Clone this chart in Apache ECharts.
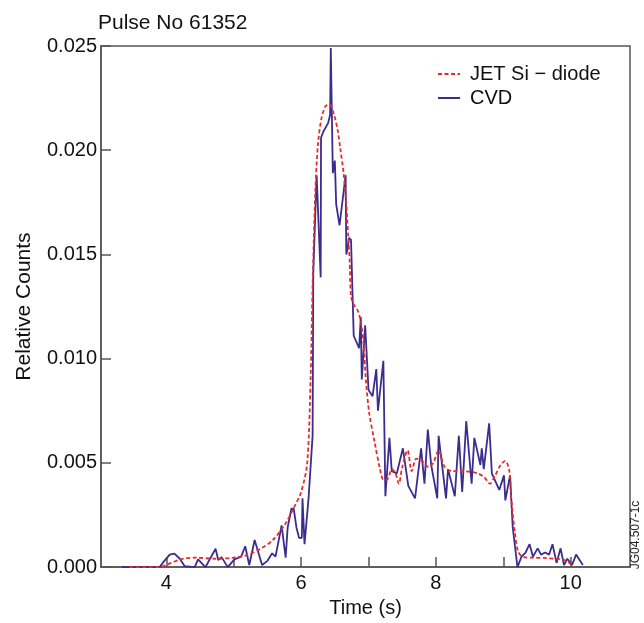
<!DOCTYPE html>
<html>
<head>
<meta charset="utf-8">
<script src="https://cdn.jsdelivr.net/npm/echarts@6/dist/echarts.min.js"></script>
<style>
html,body{margin:0;padding:0;background:#fff;}
#chart{width:644px;height:623px;}
</style>
</head>
<body>
<div id="chart"></div>
<script>
// CVD detector (solid)
const cvdTime = [3.34,3.90,3.97,4.05,4.12,4.20,4.27,4.42,4.47,4.58,4.73,4.77,4.82,4.91,5.01,5.11,5.17,5.23,5.31,5.42,5.50,5.57,5.62,5.71,5.77,5.80,5.855,5.89,5.93,5.97,6.01,6.02,6.05,6.11,6.17,6.18,6.23,6.29,6.295,6.33,6.40,6.43,6.44,6.47,6.50,6.52,6.57,6.66,6.67,6.69,6.71,6.74,6.78,6.86,6.885,6.90,6.95,7.00,7.06,7.115,7.14,7.22,7.25,7.31,7.345,7.42,7.51,7.59,7.69,7.78,7.83,7.88,7.93,8.02,8.04,8.15,8.18,8.28,8.34,8.39,8.45,8.53,8.57,8.66,8.68,8.71,8.79,8.83,8.94,9.01,9.03,9.10,9.14,9.21,9.27,9.33,9.39,9.44,9.51,9.56,9.62,9.68,9.73,9.79,9.85,9.90,9.95,10.02,10.08,10.18];
const cvdCounts = [0,0,0.0003,0.0006,0.00065,0.0004,0.00005,0,0.00037,0,0.00088,0.00034,0.00048,0,0.00037,0.0005,0.001,0.0001,0.0013,0.0001,0.0003,0.00066,0.0005,0.002,0.00045,0.0019,0.0028,0.0028,0.0019,0.0014,0.0014,0.0033,0.0011,0.0033,0.0063,0.0141,0.0188,0.0139,0.0206,0.0209,0.0213,0.0217,0.0249,0.0189,0.0195,0.0174,0.0164,0.0188,0.015,0.0153,0.0158,0.0157,0.0111,0.0105,0.012,0.009,0.0116,0.0085,0.0082,0.0095,0.0075,0.0099,0.0034,0.0062,0.0046,0.0045,0.0057,0.0039,0.0033,0.0057,0.004,0.0066,0.0049,0.0033,0.0063,0.0033,0.0047,0.0034,0.0063,0.0036,0.007,0.004,0.0062,0.0049,0.0057,0.0047,0.0069,0.0045,0.0037,0.0044,0.0032,0.0044,0.0019,0,0.0005,0.0007,0.0011,0.0005,0.0009,0.0006,0.0007,0.0006,0.0011,0.0002,0.0009,0.0001,0.0004,0.0001,0.0006,0.0001];
// JET Si-diode (dashed)
const jetTime = [3.45,3.90,4.07,4.24,4.44,4.74,4.99,5.18,5.38,5.58,5.77,5.90,6.00,6.09,6.14,6.17,6.21,6.25,6.30,6.36,6.42,6.48,6.54,6.58,6.63,6.67,6.70,6.72,6.74,6.78,6.84,6.885,6.93,6.96,7.01,7.09,7.17,7.22,7.27,7.35,7.40,7.45,7.50,7.58,7.64,7.71,7.79,7.89,7.96,8.04,8.13,8.26,8.41,8.62,8.72,8.80,8.88,8.96,9.03,9.09,9.12,9.17,9.22,9.30,9.45,9.60,9.75,9.90,9.98,10.05];
const jetCounts = [0,0,0.0002,0.0004,0.00045,0.0004,0.00045,0.00056,0.00085,0.0013,0.0021,0.0029,0.0036,0.005,0.009,0.0135,0.018,0.0203,0.0215,0.0221,0.0222,0.0218,0.021,0.0201,0.0189,0.0174,0.0158,0.0147,0.013,0.0126,0.0123,0.0118,0.0106,0.009,0.0074,0.006,0.0047,0.0042,0.0042,0.0047,0.0045,0.004,0.0048,0.0056,0.0046,0.0052,0.0051,0.0048,0.005,0.0056,0.0048,0.0046,0.0046,0.0045,0.0043,0.004,0.0044,0.0049,0.0051,0.0046,0.0032,0.0017,0.00075,0.00048,0.00045,0.00044,0.0004,0.00035,0.0002,0];
const xTicks = [4,5,6,7,8,9,10];
const xLabels = [4,6,8,10];
const seriesNames = ['JET Si − diode','CVD'];

const font = '"Liberation Sans", Arial, Helvetica, sans-serif';
const chart = echarts.init(document.getElementById('chart'), null, {renderer:'canvas'});
chart.setOption({
  animation: false,
  backgroundColor: '#fff',
  textStyle: {fontFamily: font},
  title: {text: 'Pulse No 61352', left: 93, top: 8,
    textStyle: {fontFamily: font, fontSize: 21, fontWeight: 'normal', color: '#111'}},
  legend: {
    data: [seriesNames[0], seriesNames[1]],
    orient: 'vertical', left: 432, top: 59,
    itemWidth: 22, itemHeight: 14, itemGap: 4,
    itemStyle: {opacity: 0},
    textStyle: {fontFamily: font, fontSize: 20, color: '#111', lineHeight: 20, padding: [0,0,0,5]}
  },
  grid: {left: 101, right: 14, top: 46, bottom: 51, show: true, borderColor: '#555', borderWidth: 1.5},
  xAxis: {
    type: 'value', min: 3.03, max: 10.88,
    name: 'Time (s)', nameLocation: 'middle', nameGap: 26,
    nameTextStyle: {fontFamily: font, fontSize: 20, color: '#111'},
    axisLine: {show: true, lineStyle: {color: '#555', width: 1.5}},
    axisTick: {show: true, inside: true, length: 10, customValues: xTicks, lineStyle: {color: '#555', width: 1.5}},
    axisLabel: {customValues: xLabels, fontFamily: font, fontSize: 20, color: '#111', margin: 6},
    splitLine: {show: false}
  },
  yAxis: {
    type: 'value', min: 0, max: 0.025, interval: 0.005,
    name: 'Relative Counts', nameLocation: 'middle', nameGap: 66,
    nameTextStyle: {fontFamily: font, fontSize: 21, color: '#111'},
    axisLine: {show: true, lineStyle: {color: '#555', width: 1.5}},
    axisTick: {show: true, inside: true, length: 10, lineStyle: {color: '#555', width: 1.5}},
    axisLabel: {fontFamily: font, fontSize: 20, color: '#111', margin: 4,
      formatter: v => v.toFixed(3)},
    splitLine: {show: false}
  },
  graphic: [{
    type: 'text', x: 636, y: 535, rotation: Math.PI/2,
    style: {text: 'JG04.507-1c', font: '12px ' + font, fill: '#222', align: 'center', verticalAlign: 'middle'}
  }],
  series: [
    {name: seriesNames[1], type: 'line', symbol: 'none', showSymbol: false,
      data: cvdTime.map((t,i)=>[t, cvdCounts[i]]),
      lineStyle: {color: '#3b2c8e', width: 1.8}, itemStyle: {color: '#3b2c8e'}, z: 2},
    {name: seriesNames[0], type: 'line', symbol: 'none', showSymbol: false, smooth: 0.3,
      data: jetTime.map((t,i)=>[t, jetCounts[i]]),
      lineStyle: {color: '#ea2b2b', width: 1.8, type: [4,2.5]}, itemStyle: {color: '#ea2b2b'}, z: 3}
  ]
});
</script>
</body>
</html>
